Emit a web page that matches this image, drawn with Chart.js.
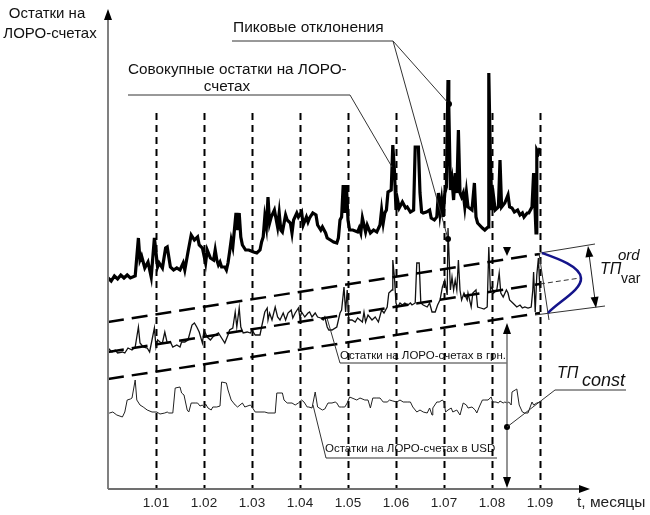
<!DOCTYPE html>
<html>
<head>
<meta charset="utf-8">
<script src="https://cdn.jsdelivr.net/npm/chart.js@4.4.1/dist/chart.umd.min.js"></script>
<style>
  html, body { margin: 0; padding: 0; background: #fff; }
  canvas { display: block; }
</style>
</head>
<body>
<canvas id="loro-chart" width="650" height="515"></canvas>
<script>
// Month marks (1st day of each month), x axis in days
const monthLabels = ['1.01', '1.02', '1.03', '1.04', '1.05', '1.06', '1.07', '1.08', '1.09'];
const monthDays = [30, 60, 90, 120, 150, 180, 210, 240, 270];

// Total LORO balances (thick line)
const totalDays = [0, 2, 4, 6, 8, 10, 12, 14, 17, 19, 20, 21, 23, 25, 27, 29, 31, 32, 34, 36, 37, 39, 41, 43, 45, 47, 48, 50, 52, 54, 56, 57, 59, 61, 62, 64, 66, 67, 68, 69, 70, 71, 73, 74, 75, 76, 77, 78, 79, 80, 81, 82, 83, 84, 86, 88, 91, 93, 95, 96, 97, 98, 99, 100, 101, 102, 104, 106, 107, 108, 109, 111, 112, 114, 115, 116, 118, 119, 121, 122, 124, 125, 126, 128, 130, 131, 133, 134, 136, 137, 139, 141, 143, 144, 145, 146, 147, 148, 149, 150, 151, 153, 156, 157, 158, 159, 161, 162, 164, 166, 168, 170, 171, 172, 173, 174, 175, 177, 178, 179, 180, 181, 182, 184, 186, 187, 189, 191, 192, 194, 195, 196, 197, 199, 201, 202, 204, 205.5, 206.5, 207.5, 208.5, 209.5, 210.5, 211.5, 212.5, 213, 214, 215, 216, 217, 218, 219, 220, 221, 222, 223, 224, 225, 227.5, 229, 230, 231, 234, 235.5, 237.5, 238, 239, 240, 241, 242, 244, 245, 246, 248, 250, 251, 252.5, 254, 256, 257.5, 259, 260, 262, 263, 265, 266, 266.5, 267.5, 268, 269, 270];
const totalVals = [211, 208, 213, 210, 214, 211, 214, 211, 213, 251, 229, 233, 221, 227, 212, 251, 222, 226, 221, 241, 242, 222, 219, 221, 219, 226, 219, 237, 254, 249, 252, 244, 241, 226, 239, 231, 229, 239, 229, 224, 227, 222, 222, 219, 226, 237, 249, 242, 259, 276, 259, 276, 252, 244, 239, 239, 237, 236, 239, 247, 252, 272, 262, 292, 266, 272, 279, 262, 276, 259, 257, 274, 269, 266, 256, 269, 276, 272, 277, 264, 272, 267, 271, 276, 274, 264, 259, 262, 256, 251, 249, 247, 246, 251, 269, 272, 304, 276, 304, 269, 259, 259, 257, 261, 256, 271, 257, 264, 256, 259, 257, 264, 279, 266, 276, 279, 297, 299, 344, 319, 279, 289, 281, 287, 281, 282, 277, 279, 342, 342, 296, 277, 276, 277, 279, 271, 269, 272, 296, 276, 289, 272, 296, 302, 409, 382, 299, 309, 289, 316, 296, 359, 296, 292, 296, 282, 297, 282, 279, 306, 272, 266, 261, 259, 262, 416, 329, 279, 292, 279, 282, 329, 282, 286, 294, 282, 281, 277, 279, 274, 276, 272, 276, 276, 282, 316, 296, 256, 339, 336, 341];

// Balances in UAH (medium line)
const uahDays = [0, 2.5, 4.5, 6, 9, 10.5, 12.5, 15, 17, 19, 20, 22, 24.5, 26, 27.5, 29, 30, 31, 32.5, 34, 35.5, 37, 39, 40.5, 43, 45, 46, 48, 50, 52.5, 54, 55.5, 57, 59, 60, 62, 64, 65.5, 67, 69, 71, 73, 75, 76, 78, 79.5, 80.5, 82, 83, 84.5, 87, 89, 90, 92, 95, 96, 98, 99.5, 100, 101, 102.5, 104.5, 106, 107.5, 109.5, 111, 112.5, 114.5, 115.5, 117, 119, 120, 121, 123, 125, 126, 127.5, 129.5, 131, 133, 134.5, 135.5, 137, 138, 140, 143, 145, 146, 147.5, 148.5, 149.5, 150.5, 152.5, 154.5, 156, 159, 160, 161, 162.5, 165, 167, 169, 171, 172.5, 174.5, 175.5, 177.5, 178, 179, 180, 181, 182.5, 184, 185.5, 187.5, 189, 190, 192, 193, 194.5, 195.5, 197, 199.5, 201, 202.5, 204.5, 206, 207.5, 209, 210.5, 212, 212.5, 214, 215, 216, 217, 218, 219, 220, 221, 222.5, 224.5, 225, 227, 228, 230, 231, 233, 235, 237, 238, 239, 240, 241, 243, 244.5, 245.5, 247, 249, 250, 251, 253, 255.5, 257.5, 259, 260.5, 262.5, 264.5, 265.5, 266, 267, 268, 269, 270];
const uahVals = [141, 137, 139, 136, 137, 136, 141, 139, 142, 162, 146, 142, 141, 137, 149, 161, 142, 149, 147, 146, 157, 146, 147, 142, 144, 142, 147, 147, 149, 164, 166, 162, 157, 146, 159, 152, 149, 152, 154, 156, 151, 146, 154, 159, 161, 177, 162, 181, 162, 156, 157, 156, 159, 154, 154, 162, 177, 181, 169, 176, 169, 182, 172, 169, 176, 169, 176, 179, 171, 176, 181, 171, 177, 172, 176, 177, 172, 176, 172, 171, 169, 172, 162, 159, 159, 162, 176, 179, 202, 177, 199, 169, 169, 167, 171, 167, 177, 167, 174, 169, 172, 167, 179, 176, 182, 196, 199, 229, 212, 186, 182, 186, 184, 186, 184, 186, 184, 186, 226, 226, 186, 184, 182, 186, 177, 177, 184, 189, 202, 209, 194, 261, 199, 212, 199, 209, 199, 229, 199, 189, 196, 189, 196, 182, 196, 199, 182, 181, 180, 182, 242, 199, 202, 196, 199, 216, 196, 192, 199, 196, 189, 186, 182, 184, 181, 182, 181, 182, 199, 217, 177, 214, 231, 197];

// Balances in USD (thin line)
const usdDays = [0, 1, 3, 5.5, 9, 10.5, 12, 14, 15, 17, 18, 20, 22, 24.5, 27.5, 30.5, 32.5, 35.5, 37, 38, 40.5, 42, 45, 46, 47.5, 49.5, 50.5, 52, 54.5, 56, 57.5, 59, 60, 61, 62.5, 64.5, 65.5, 68, 70, 71, 74, 75, 77, 79.5, 81, 84, 85.5, 89, 90, 92, 95, 98, 100, 104.5, 105.5, 109, 110, 112, 115, 117, 119, 121, 122.5, 124.5, 125.5, 127.5, 129.5, 131, 134, 135.5, 137.5, 140, 142, 143, 144.5, 146, 148, 149.5, 151, 152.5, 155.5, 157.5, 160.5, 162.5, 164, 165.5, 168, 170, 172, 174.5, 176, 178, 180.5, 182.5, 184.5, 187, 189, 190.5, 193, 195, 197, 199.5, 201, 202.5, 203, 205.5, 207, 209, 210, 211, 212.5, 214.5, 215.5, 218, 220, 222, 224, 225, 227.5, 229.5, 230.5, 232, 234, 235.5, 237.5, 239.5, 240.5, 242.5, 244, 245, 247, 248, 249.5, 250.5, 252, 252.5, 254.5, 255.5, 257, 259, 260.5, 262.5, 265, 266, 268, 270];
const usdVals = [76, 76, 77, 74, 72, 77, 89, 90, 91, 109, 89, 84, 82, 79, 77, 77, 75, 76, 77, 76, 76, 101, 102, 96, 94, 79, 77, 86, 86, 86, 83, 84, 82, 85, 81, 79, 82, 82, 83, 107, 106, 99, 89, 84, 82, 86, 82, 84, 82, 77, 77, 77, 76, 76, 96, 96, 89, 86, 86, 84, 86, 89, 87, 82, 82, 81, 97, 82, 79, 80, 86, 86, 87, 86, 82, 82, 82, 86, 92, 91, 89, 91, 89, 89, 81, 91, 91, 91, 87, 87, 89, 88, 87, 89, 87, 87, 87, 82, 77, 79, 77, 76, 81, 74, 81, 87, 87, 89, 87, 77, 79, 81, 77, 79, 74, 86, 84, 81, 82, 79, 76, 82, 89, 89, 89, 92, 87, 87, 86, 88, 86, 87, 86, 87, 84, 97, 99, 100, 84, 77, 76, 76, 87, 84, 86, 87];

// Trend corridor (dashed lines)
const trendDays = [0, 270];
const trendTop = [167, 235];
const trendMid = [137, 205];
const trendLow = [110, 176];

const FONT = '"Liberation Sans", Arial, Helvetica, sans-serif';

function toPoints(xs, ys) {
    return xs.map((x, i) => ({ x: x, y: ys[i] }));
}

function strokeLine(ctx, pts, width, color, dash) {
    ctx.save();
    ctx.beginPath();
    ctx.lineWidth = width;
    ctx.strokeStyle = color;
    ctx.setLineDash(dash || []);
    ctx.moveTo(pts[0][0], pts[0][1]);
    for (let i = 1; i < pts.length; i++) ctx.lineTo(pts[i][0], pts[i][1]);
    ctx.stroke();
    ctx.restore();
}

// filled arrow head, tip at (x, y), pointing along angle
function arrowHead(ctx, x, y, angle, len, half) {
    ctx.save();
    ctx.translate(x, y);
    ctx.rotate(angle);
    ctx.beginPath();
    ctx.moveTo(0, 0);
    ctx.lineTo(-len, -half);
    ctx.lineTo(-len, half);
    ctx.closePath();
    ctx.fillStyle = '#000';
    ctx.fill();
    ctx.restore();
}

function dot(ctx, x, y) {
    ctx.beginPath();
    ctx.arc(x, y, 3, 0, Math.PI * 2);
    ctx.fillStyle = '#000';
    ctx.fill();
}

function text(ctx, str, x, y, font, align) {
    ctx.font = font;
    ctx.fillStyle = '#111';
    ctx.textAlign = align || 'left';
    ctx.textBaseline = 'alphabetic';
    ctx.fillText(str, x, y);
}

// Month grid lines (under the series)
const monthGrid = {
    id: 'monthGrid',
    beforeDatasetsDraw(chart) {
        const ctx = chart.ctx;
        const xs = chart.scales.x, ys = chart.scales.y;
        monthDays.forEach(d => {
            const x = Math.round(xs.getPixelForValue(d)) + 0.5;
            strokeLine(ctx, [[x, ys.getPixelForValue(376)], [x, ys.getPixelForValue(0)]], 2, '#000', [7, 5]);
        });
    }
};

// Axes, tick labels and all the scheme annotations
const schemeOverlay = {
    id: 'schemeOverlay',
    afterDatasetsDraw(chart) {
        const ctx = chart.ctx;
        const xs = chart.scales.x, ys = chart.scales.y;
        const x0 = xs.getPixelForValue(0), y0 = ys.getPixelForValue(0);

        // axes
        strokeLine(ctx, [[x0, y0], [x0, 16]], 2, '#808080');
        arrowHead(ctx, x0, 9, -Math.PI / 2, 11, 4);
        strokeLine(ctx, [[x0, y0], [582, y0]], 2, '#707070');
        arrowHead(ctx, 590, y0, 0, 11, 4);

        // month tick labels
        monthDays.forEach((d, i) => {
            ctx.font = '13.5px ' + FONT;
            ctx.fillStyle = '#222';
            ctx.textAlign = 'center';
            ctx.textBaseline = 'middle';
            ctx.fillText(monthLabels[i], xs.getPixelForValue(d), 503);
        });
        ctx.font = '15.5px ' + FONT;
        ctx.textAlign = 'left';
        ctx.fillText('t, месяцы', 577, 503);

        // y axis title
        text(ctx, 'Остатки на', 47, 18, '15px ' + FONT, 'center');
        text(ctx, 'ЛОРО-счетах', 50, 38, '15px ' + FONT, 'center');

        // peak deviations
        text(ctx, 'Пиковые отклонения', 233, 32, '15.5px ' + FONT);
        strokeLine(ctx, [[232, 41], [393, 41], [449, 104]], 1, '#333');
        strokeLine(ctx, [[393, 41], [448, 239]], 1, '#333');
        dot(ctx, 449, 104);
        dot(ctx, 448, 239);

        // total balances label
        text(ctx, 'Совокупные остатки на ЛОРО-', 128, 74, '15.3px ' + FONT);
        text(ctx, 'счетах', 227, 91, '15.3px ' + FONT, 'center');
        strokeLine(ctx, [[128, 95], [350, 95], [392, 167]], 1, '#333');

        // UAH label
        text(ctx, 'Остатки на ЛОРО-счетах в грн.', 340, 359, '11.5px ' + FONT);
        strokeLine(ctx, [[327, 318], [340, 363], [507, 363]], 1, '#333');

        // USD label
        text(ctx, 'Остатки на ЛОРО-счетах в USD', 325, 452, '11.5px ' + FONT);
        strokeLine(ctx, [[313, 405], [326, 458], [497, 458]], 1, '#333');

        // constant component arrow
        strokeLine(ctx, [[507, 333], [507, 478]], 1.5, '#707070');
        arrowHead(ctx, 507, 323, -Math.PI / 2, 11, 4);
        arrowHead(ctx, 507, 488, Math.PI / 2, 11, 4);
        arrowHead(ctx, 507, 256, Math.PI / 2, 9, 4);
        dot(ctx, 507, 427);
        strokeLine(ctx, [[507, 427], [555, 390], [626, 390]], 1, '#333');
        text(ctx, 'ТП', 557, 378, 'italic 16px ' + FONT);
        text(ctx, 'const', 582, 386, 'italic 18px ' + FONT);

        // variable component: distribution sketch
        strokeLine(ctx, [[540, 253], [595, 244]], 1, '#333');
        strokeLine(ctx, [[535, 315], [605, 306]], 1, '#333');
        strokeLine(ctx, [[540, 284], [580, 278]], 1, '#333', [5, 3]);
        strokeLine(ctx, [[539, 253], [549, 320]], 1, '#333');
        ctx.save();
        ctx.beginPath();
        ctx.lineWidth = 2.5;
        ctx.strokeStyle = '#14148a';
        ctx.moveTo(542, 253);
        ctx.bezierCurveTo(556, 258, 580, 266, 581, 278);
        ctx.bezierCurveTo(582, 290, 558, 302, 548, 313);
        ctx.stroke();
        ctx.restore();
        const ang = Math.atan2(308 - 246, 596 - 588);
        strokeLine(ctx, [[589, 254], [595, 300]], 1, '#222');
        arrowHead(ctx, 588, 246, ang + Math.PI, 11, 4);
        arrowHead(ctx, 596, 308, ang, 11, 4);
        text(ctx, 'ТП', 600, 274, 'italic 16px ' + FONT);
        text(ctx, 'ord', 618, 260, 'italic 15px ' + FONT);
        text(ctx, 'var', 621, 283, '14px ' + FONT);
    }
};

const corridorStyle = {
    borderColor: '#000',
    borderWidth: 2.5,
    borderDash: [16, 8],
    pointRadius: 0,
    fill: false
};

new Chart(document.getElementById('loro-chart'), {
    type: 'line',
    data: {
        datasets: [
            Object.assign({ label: 'trend top', data: toPoints(trendDays, trendTop) }, corridorStyle),
            Object.assign({ label: 'trend mid', data: toPoints(trendDays, trendMid) }, corridorStyle),
            Object.assign({ label: 'trend low', data: toPoints(trendDays, trendLow) }, corridorStyle),
            {
                label: 'Совокупные остатки',
                data: toPoints(totalDays, totalVals),
                borderColor: '#000',
                borderWidth: 3.2,
                pointRadius: 0,
                tension: 0
            },
            {
                label: 'Остатки в грн.',
                data: toPoints(uahDays, uahVals),
                borderColor: '#111',
                borderWidth: 1.3,
                pointRadius: 0,
                tension: 0
            },
            {
                label: 'Остатки в USD',
                data: toPoints(usdDays, usdVals),
                borderColor: '#222',
                borderWidth: 1,
                pointRadius: 0,
                tension: 0
            }
        ]
    },
    options: {
        responsive: false,
        animation: false,
        layout: {
            padding: { left: 108, right: 62, top: 10, bottom: 26 }
        },
        plugins: {
            legend: { display: false },
            tooltip: { enabled: false }
        },
        scales: {
            x: { type: 'linear', min: 0, max: 300, display: false },
            y: { type: 'linear', min: 0, max: 479, display: false }
        }
    },
    plugins: [monthGrid, schemeOverlay]
});
</script>
</body>
</html>
